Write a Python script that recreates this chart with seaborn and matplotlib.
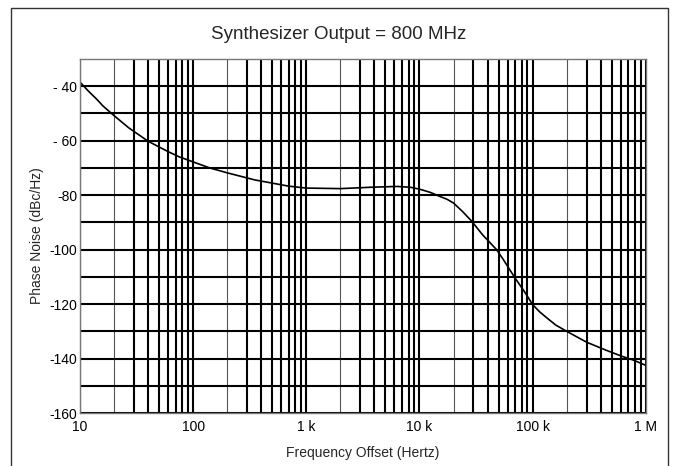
import matplotlib
matplotlib.use("Agg")
import numpy as np
import pandas as pd
import matplotlib.pyplot as plt
import seaborn as sns
from matplotlib.ticker import FixedLocator, LogLocator, NullFormatter
from matplotlib.patches import Rectangle

# curve (offset frequency in Hz, phase noise in dBc/Hz)
freq_hz = [10, 12, 14, 16, 20, 27, 33, 40, 50, 60, 75, 100, 140, 200, 350, 700,
           1000, 2000, 3700, 6300, 8300, 10000, 11000, 12500, 15000, 17500, 20000,
           24000, 29000, 36000, 48000, 55000, 63000, 72000, 83000, 92000, 100000,
           115000, 133000, 160000, 200000, 300000, 450000, 600000, 780000, 1000000]
noise_dbc = [-38.5, -42.0, -44.7, -47.3, -50.8, -55.3, -57.8, -60.2, -62.3, -64.0,
             -65.9, -67.8, -70.0, -71.8, -74.4, -76.7, -77.4, -77.6, -77.1, -76.8,
             -77.1, -77.8, -78.3, -79.0, -80.4, -81.5, -82.9, -86.0, -89.6, -94.5,
             -100.0, -103.6, -107.5, -111.2, -114.9, -117.8, -120.2, -122.8, -125.0,
             -127.7, -130.0, -134.0, -137.0, -139.0, -140.6, -142.5]

x_ticks = [10, 100, 1000, 10000, 100000, 1000000]
x_labels = ["10", "100", "1 k", "10 k", "100 k", "1 M"]
y_ticks = [-160, -140, -120, -100, -80, -60, -40]
y_labels = ["-160", "-140", "-120", "-100", "-80", "- 60", "- 40"]

df = pd.DataFrame({"freq": freq_hz, "noise": noise_dbc})

sns.set_style("white")
plt.rcParams["font.family"] = ["Liberation Sans", "DejaVu Sans"]

fig = plt.figure(figsize=(6.78, 4.66), dpi=100)
ax = fig.add_axes([0.118, 0.1137, 0.8345, 0.7597])

sns.lineplot(data=df, x="freq", y="noise", ax=ax, color="black", linewidth=1.2)

ax.set_xscale("log")
ax.set_xlim(10, 1e6)
ax.set_ylim(-160, -30)

ax.xaxis.set_major_locator(FixedLocator(x_ticks))
ax.set_xticklabels(x_labels)
ax.xaxis.set_minor_locator(LogLocator(base=10, subs=np.arange(2, 10), numticks=20))
ax.xaxis.set_minor_formatter(NullFormatter())
ax.yaxis.set_major_locator(FixedLocator(y_ticks))
ax.set_yticklabels(y_labels)
ax.yaxis.set_minor_locator(FixedLocator(np.arange(-150, -30, 20)))

ax.grid(which="both", color="black", linewidth=1.5)
# the 2x lines in each decade are drawn thin in the reference
for t, loc in zip(ax.xaxis.get_minor_ticks(), ax.xaxis.get_minorticklocs()):
    mant = loc / 10 ** np.floor(np.log10(loc) + 1e-9)
    if abs(mant - 2) < 1e-6:
        t.gridline.set_linewidth(0.8)
        t.gridline.set_color("#555555")

ax.tick_params(which="both", length=0, labelsize=10, colors="black")
ax.tick_params(axis="x", pad=5)
ax.tick_params(axis="y", pad=2)
for s in ax.spines.values():
    s.set_color("#777777")
    s.set_linewidth(1.0)
    s.set_zorder(5)

ax.set_xlabel("Frequency Offset (Hertz)", fontsize=10, labelpad=9)
ax.set_ylabel("Phase Noise (dBc/Hz)", fontsize=10, labelpad=4)
fig.text(0.5, 0.927, "Synthesizer Output = 800 MHz", ha="center", va="center", fontsize=13.5)

# outer frame around the figure content
fig.patches.append(Rectangle((11 / 678, -0.05), 657 / 678, 0.983 + 0.05,
                             transform=fig.transFigure, fill=False,
                             edgecolor="#333333", linewidth=1.0))

plt.savefig("out.png", dpi=100)
plt.close()
